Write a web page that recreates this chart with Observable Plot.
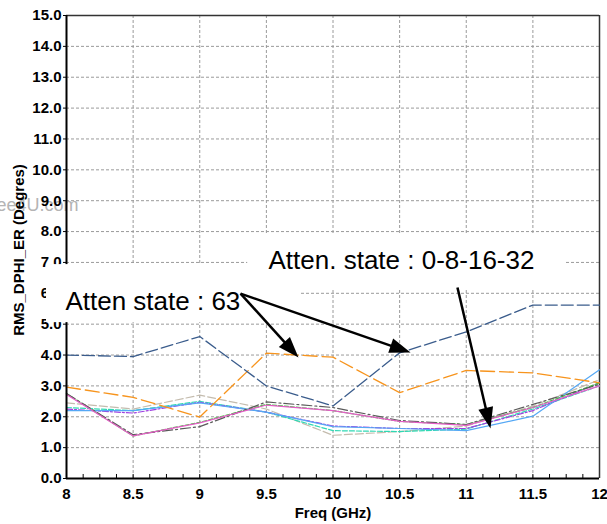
<!DOCTYPE html>
<html><head><meta charset="utf-8">
<script src="https://cdn.jsdelivr.net/npm/d3@7"></script>
<script src="https://cdn.jsdelivr.net/npm/@observablehq/plot@0.6"></script>
<style>body{margin:0;background:#fff;}</style>
</head><body><div id="chart"></div>
<script>
// ---- data ----
const freq = [8, 8.5, 9, 9.5, 10, 10.5, 11, 11.5, 12];
const navy63    = [4.0, 3.95, 4.6, 3.0, 2.35, 4.07, 4.75, 5.62, 5.62];
const orange63  = [2.96, 2.63, 1.99, 4.06, 3.93, 2.78, 3.5, 3.42, 3.1];
const lightBlue = [2.2, 2.2, 2.45, 2.15, 1.68, 1.62, 1.55, 2.02, 3.52];
const purple    = [2.25, 2.12, 2.47, 2.15, 1.7, 1.62, 1.62, 2.2, 3.1];
const teal      = [2.3, 2.2, 2.5, 2.15, 1.55, 1.52, 1.6, 2.25, 3.0];
const tan       = [2.45, 2.25, 2.7, 2.25, 1.4, 1.52, 1.7, 2.35, 3.2];
const green     = [2.75, 1.38, 1.82, 2.4, 2.2, 1.85, 1.75, 2.3, 3.1];
const pink      = [2.72, 1.38, 1.8, 2.38, 2.2, 1.85, 1.72, 2.3, 3.0];
const darkGray  = [2.75, 1.42, 1.68, 2.48, 2.3, 1.88, 1.75, 2.4, 3.05];
const xTicks = [8, 8.5, 9, 9.5, 10, 10.5, 11, 11.5, 12];
const yTicks = [0,1,2,3,4,5,6,7,8,9,10,11,12,13,14,15];
const xGrid = [8.5, 9, 9.5, 10, 10.5, 11, 11.5];
const yGrid = [1,2,3,4,5,6,7,8,9,10,11,12,13,14];
const minorX = d3.range(8.125, 12, 0.125);
const xLabel = "Freq (GHz)";
const yLabel = "RMS_DPHI_ER (Degres)";
const watermark = "ee4U.com";
const notes = [
  {text: "Atten state : 63", x: 7.992, y: 5.72},
  {text: "Atten. state : 0-8-16-32", x: 9.516, y: 7.07}
];
const boxes = [
  {x1: 7.85, x2: 9.76, y1: 5.05, y2: 6.93},
  {x1: 9.36, x2: 11.75, y1: 6.15, y2: 7.9}
];
const arrowList = [
  {x1: 9.306, y1: 5.99, x2: 9.741, y2: 3.92},
  {x1: 9.306, y1: 5.99, x2: 10.582, y2: 4.08},
  {x1: 10.934, y1: 6.19, x2: 11.182, y2: 1.62}
];

// ---- styles ----
const series = [
  {values: tan, color: "#c4bcae", dash: "8,3", w: 1.2},
  {values: teal, color: "#2fd9b4", dash: "5,2", w: 1.2},
  {values: purple, color: "#a040e0", dash: "6,2,2,2", w: 1.2},
  {values: lightBlue, color: "#55a8f5", dash: null, w: 1.2},
  {values: green, color: "#3cc83c", dash: "4,2", w: 1.2},
  {values: darkGray, color: "#5a5a5a", dash: "10,3,2,3", w: 1.2},
  {values: pink, color: "#e65cc8", dash: null, w: 1.2},
  {values: orange63, color: "#f7941d", dash: "14,5", w: 1.3},
  {values: navy63, color: "#3a5c8c", dash: "12,4", w: 1.3}
];

const W = 607, H = 524, mL = 66, mR = 8, mT = 15, mB = 46;
// mirror scales to orient arrowheads in screen space
const sx = d3.scaleLinear([8, 12], [mL, W - mR]);
const sy = d3.scaleLinear([0, 15], [H - mB, mT]);
const arrows = arrowList.map(a => {
  const dx = sx(a.x2) - sx(a.x1), dy = sy(a.y2) - sy(a.y1);
  const len = Math.hypot(dx, dy);
  return {...a,
    angle: Math.atan2(dx, -dy) * 180 / Math.PI,
    ex: sx.invert(sx(a.x2) - dx / len * 12),
    ey: sy.invert(sy(a.y2) - dy / len * 12)};
});
const arrowHead = {draw(ctx) { ctx.moveTo(0, 0); ctx.lineTo(-7.5, 21); ctx.lineTo(7.5, 21); ctx.closePath(); }};

const font = "'Liberation Sans', Arial, sans-serif";
const marks = [
  Plot.text([0], {frameAnchor: "top-left", dx: -70, dy: 190, text: () => watermark,
    textAnchor: "start", lineAnchor: "middle", fill: "#b4b4b4", fontSize: 18}),
  Plot.ruleX(xGrid, {stroke: "#9a9a9a", strokeDasharray: "3,2", strokeWidth: 1}),
  Plot.ruleY(yGrid, {stroke: "#9a9a9a", strokeDasharray: "3,2", strokeWidth: 1}),
  Plot.ruleY([15], {stroke: "#333", strokeWidth: 1.5}),
  Plot.ruleX([12], {stroke: "#333", strokeWidth: 1.5}),
  ...series.map(s => Plot.line(freq.map((f, i) => ({f, v: s.values[i]})),
    {x: "f", y: "v", stroke: s.color, strokeWidth: s.w, strokeDasharray: s.dash})),
  Plot.ruleX(minorX, {x: d => d, y1: 0, y2: 0.13, stroke: "#000", strokeWidth: 1}),
  Plot.axisY({ticks: yTicks, tickFormat: d => d.toFixed(1), tickSize: 3, tickPadding: 2,
    fontSize: 15, fontWeight: "bold", label: null, stroke: "#000"}),
  Plot.axisX({ticks: xTicks, tickFormat: d => String(d), tickSize: 0, tickPadding: 10,
    fontSize: 15, fontWeight: "bold", label: null}),
  Plot.ruleX([8], {stroke: "#000", strokeWidth: 2}),
  Plot.ruleY([0], {stroke: "#000", strokeWidth: 2}),
  Plot.rect(boxes, {x1: "x1", x2: "x2", y1: "y1", y2: "y2", fill: "white"}),
  Plot.text(notes, {x: "x", y: "y", text: "text", textAnchor: "start", fontSize: 26, fill: "#000"}),
  Plot.link(arrows, {x1: "x1", y1: "y1", x2: "ex", y2: "ey", stroke: "#000", strokeWidth: 2.5}),
  Plot.dot(arrows, {x: "x2", y: "y2", symbol: arrowHead, rotate: "angle", fill: "#000", stroke: "none", r: 5}),
  Plot.text([0], {frameAnchor: "bottom", dy: 35, lineAnchor: "middle", textAnchor: "middle",
    text: () => xLabel, fontSize: 15, fontWeight: "bold", fill: "#000"}),
  Plot.text([0], {frameAnchor: "left", dx: -47, dy: 3, rotate: -90, textAnchor: "middle", lineAnchor: "middle",
    text: () => yLabel, fontSize: 15, fontWeight: "bold", fill: "#000"})
];

const chart = Plot.plot({
  width: W, height: H,
  marginLeft: mL, marginRight: mR, marginTop: mT, marginBottom: mB,
  x: {domain: [8, 12]},
  y: {domain: [0, 15]},
  style: {fontFamily: font, background: "white", color: "#000"},
  marks
});
document.getElementById("chart").appendChild(chart);
</script>
</body></html>
